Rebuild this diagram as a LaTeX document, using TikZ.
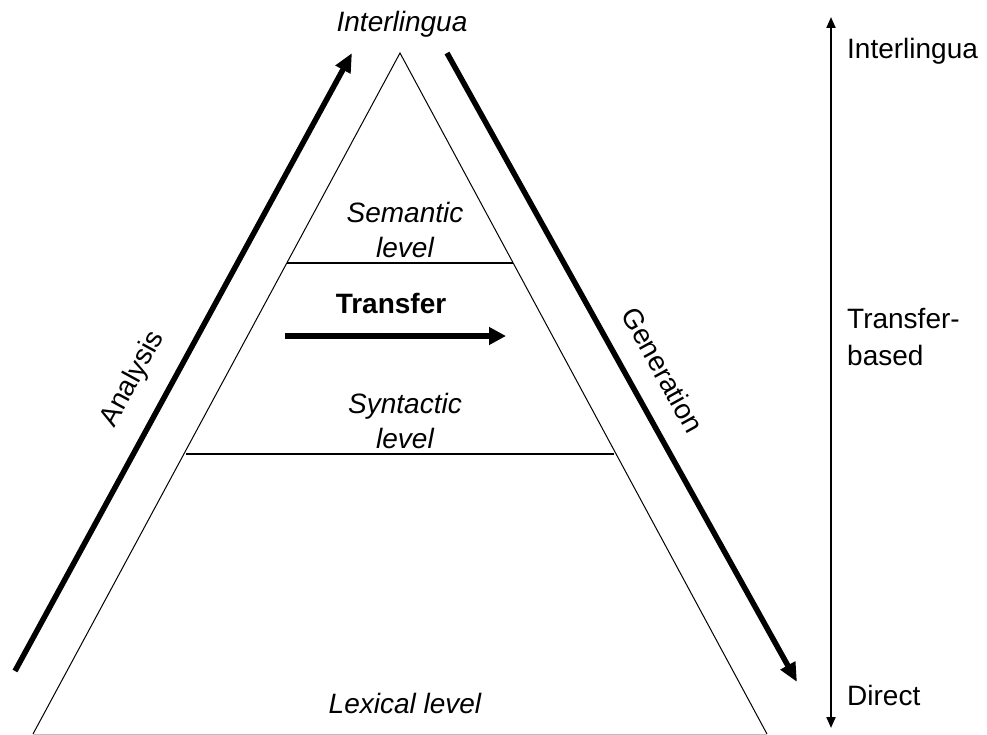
\documentclass[tikz,border=0pt]{standalone}
\usepackage{fontspec}
\setmainfont{Liberation Sans}
\usetikzlibrary{arrows.meta,positioning}

\tikzset{
  lbl/.style={inner sep=0pt, font=\fontsize{28bp}{35bp}\selectfont},
  ilbl/.style={inner sep=0pt, align=center, font=\fontsize{28bp}{35bp}\selectfont\itshape},
  bigarrow/.style={line width=5.5bp, -{Triangle[length=19bp,width=16bp]}},
}

\begin{document}
\begin{tikzpicture}[x=1bp,y=-1bp]
    \useasboundingbox (0,0) rectangle (987,735);

    % Pyramid
    \coordinate (apex) at (400,53);
    \coordinate (baseleft) at (33,734);
    \coordinate (baseright) at (767,734);
    \coordinate (semleft) at (287,263);
    \coordinate (semright) at (513,263);
    \coordinate (synleft) at (186,454);
    \coordinate (synright) at (614,454);
    \draw[line width=1bp] (baseleft) -- (apex) -- (baseright);
    \draw[line width=1bp, black!25] (baseleft) -- (baseright);
    \draw[line width=1.6bp] (semleft) -- (semright);
    \draw[line width=1.6bp] (synleft) -- (synright);

    % Level labels
    \node[ilbl, anchor=base] (inter) at (402,32) {Interlingua};
    \node[ilbl] (semantic) at (405,230) {Semantic\\level};
    \node[ilbl] (syntactic) at (405,421) {Syntactic\\level};
    \node[ilbl, anchor=base] (lexical) at (405,713) {Lexical level};

    % Transfer
    \node[lbl, anchor=base, font=\fontsize{28bp}{35bp}\selectfont\bfseries] (transfer) at (391,313) {Transfer};
    \coordinate (trstart) at (285,336);
    \coordinate (trend) at (506,336);
    \draw[line width=6bp, -{Triangle[length=17bp,width=17bp]}] (trstart) -- (trend);

    % Analysis and generation
    \coordinate (anstart) at (15,671);
    \coordinate (anend) at (352,53);
    \coordinate (genstart) at (447,53);
    \coordinate (genend) at (797,682);
    \draw[bigarrow] (anstart) -- (anend);
    \draw[bigarrow] (genstart) -- (genend);
    \node[lbl, rotate=61.4] (analysis) at (133,379) {Analysis};
    \node[lbl, rotate=-61] (generation) at (663,370) {Generation};

    % Scale on the right
    \coordinate (scaletop) at (831,17);
    \coordinate (scalebot) at (831,728);
    \draw[line width=2bp, {Triangle[length=11bp,width=9bp]}-{Triangle[length=11bp,width=9bp]}] (scalebot) -- (scaletop);
    \node[lbl, anchor=base west] (sinter) at (847,59) {Interlingua};
    \node[lbl, anchor=base west] (strans) at (847,328) {Transfer-};
    \node[lbl, anchor=base west] (sbased) at (847,365) {based};
    \node[lbl, anchor=base west] (sdirect) at (847,705) {Direct};
\end{tikzpicture}
\end{document}
